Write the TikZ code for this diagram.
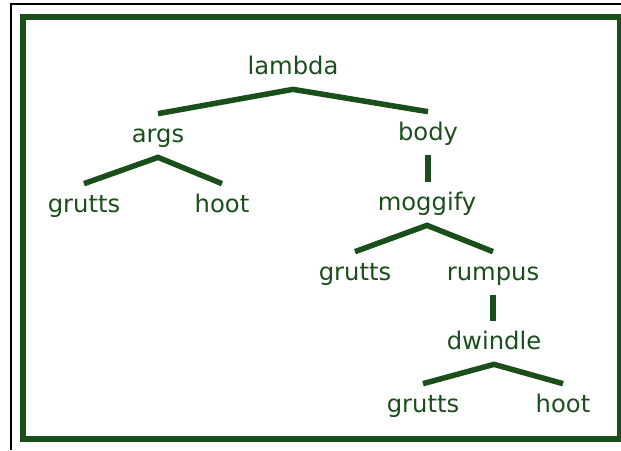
\documentclass[tikz,border=0pt]{standalone}
\usepackage{fontspec}
\setmainfont{DejaVu Sans}
\definecolor{treegreen}{RGB}{26,78,26}

\begin{document}
\begin{tikzpicture}[x=0.02cm, y=-0.02cm,
	word/.style={anchor=base, inner sep=0pt, text height=0.56cm, text depth=0.3cm,
		text=treegreen, font=\fontsize{13.8}{16}\selectfont},
	branch/.style={draw=treegreen, line width=0.11cm}]
	\useasboundingbox (0,0) rectangle (621,450);

	% frame
	\draw[line width=0.04cm] (11,450) -- (11,4) -- (621,4);
	\draw[treegreen, line width=0.12cm] (23,16.5) rectangle (619.5,438.5);

	% words
	\node[word] (lambda) at (293,74) {lambda};
	\node[word] (args) at (158,142) {args};
	\node[word] (body) at (428,140) {body};
	\node[word] (grutts1) at (84,212) {grutts};
	\node[word] (hoot1) at (222,212) {hoot};
	\node[word] (moggify) at (427,210) {moggify};
	\node[word] (grutts2) at (355,280) {grutts};
	\node[word] (rumpus) at (493,280) {rumpus};
	\node[word] (dwindle) at (494,349) {dwindle};
	\node[word] (grutts3) at (423,412) {grutts};
	\node[word] (hoot2) at (563,412) {hoot};

	% branches
	\draw[branch] (args.north) -- (lambda.south) -- (body.north);
	\draw[branch] (grutts1.north) -- (args.south) -- (hoot1.north);
	\draw[branch] (body.south) -- (body.south |- moggify.north);
	\draw[branch] (grutts2.north) -- (moggify.south) -- (rumpus.north);
	\draw[branch] (rumpus.south) -- (rumpus.south |- dwindle.north);
	\draw[branch] (grutts3.north) -- (dwindle.south) -- (hoot2.north);
\end{tikzpicture}
\end{document}
